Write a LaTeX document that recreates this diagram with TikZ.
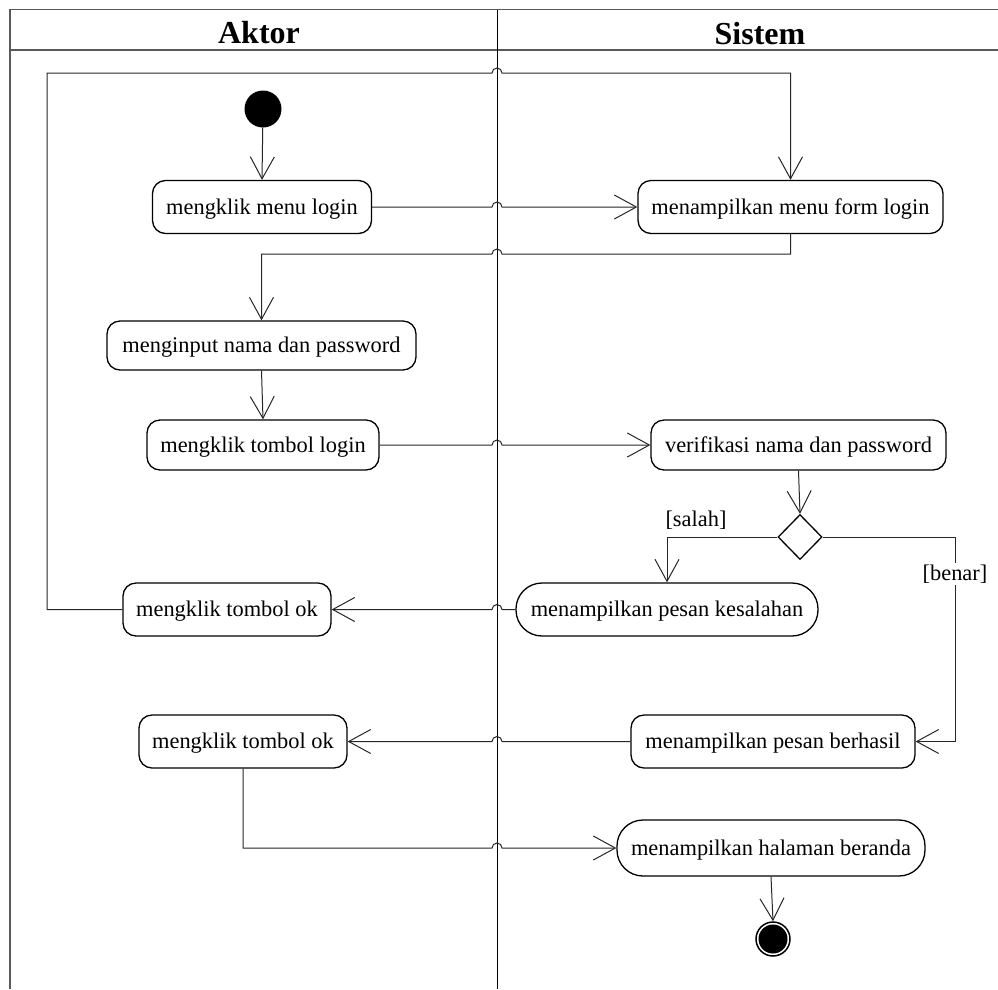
\documentclass[tikz,border=0pt]{standalone}
\usepackage{fontspec}
\setmainfont{Liberation Serif}
\usetikzlibrary{arrows.meta,shapes.geometric,calc}
\begin{document}
\begin{tikzpicture}[x=1pt,y=-1pt,
  txt/.style={font=\fontsize{22.4pt}{26pt}\selectfont},
  action/.style={txt,draw=black,line width=1.3pt,rounded corners=13pt,align=center,inner sep=0pt,text height=18pt,text depth=3.5pt},
  pill/.style={action,rounded corners=26pt},
  flow/.style={draw=black!85,line width=1pt,-{Straight Barb[length=22pt,width=24pt]}},
  guard/.style={txt,inner sep=2pt},
  lanehead/.style={font=\fontsize{32pt}{36pt}\selectfont\bfseries},
  lanerule/.style={draw=black!65,line width=1.4pt},
  startdot/.style={circle,fill=black,minimum size=37pt,inner sep=0pt},
  enddot/.style={circle,draw=black,line width=1.5pt,minimum size=34pt,inner sep=0pt,
    path picture={\fill[black] (path picture bounding box.center) circle (14.5pt);}},
  choice/.style={diamond,draw=black,line width=1.3pt,minimum width=44pt,minimum height=45pt,inner sep=0pt}
]
\useasboundingbox (0,0) rectangle (998,989);

% swimlane frame
\draw[lanerule] (10,989) -- (10,9.5) -- (998,9.5);
\draw[lanerule] (10,50) -- (998,50);
\draw[black,line width=1pt] (497,9.5) -- (497,989);
\coordinate (lane) at (497,0);
\node[lanehead] (hAktor) at (259,32.5) {Aktor};
\node[lanehead] (hSistem) at (760,33.5) {Sistem};

% activities
\node[startdot] (start) at (263,109) {};
\node[action,minimum width=219pt,minimum height=53pt] (login) at (262,207) {mengklik menu login};
\node[action,minimum width=305pt,minimum height=53pt] (form) at (790.5,207) {menampilkan menu form login};
\node[action,minimum width=309pt,minimum height=49pt] (input) at (261.5,345.5) {menginput nama dan password};
\node[action,minimum width=232pt,minimum height=50pt] (tombol) at (263,445) {mengklik tombol login};
\node[action,minimum width=295pt,minimum height=50pt] (verif) at (798.5,445) {verifikasi nama dan password};
\node[choice] (dec) at (800,537) {};
\node[pill,minimum width=302pt,minimum height=53pt] (kes) at (667,609.5) {menampilkan pesan kesalahan};
\node[action,minimum width=208pt,minimum height=53pt] (okA) at (227,609.5) {mengklik tombol ok};
\node[action,minimum width=284pt,minimum height=53pt] (berhasil) at (773,741.5) {menampilkan pesan berhasil};
\node[action,minimum width=208pt,minimum height=53pt] (okB) at (243,741.5) {mengklik tombol ok};
\node[pill,minimum width=308pt,minimum height=56pt] (beranda) at (771,848) {menampilkan halaman beranda};
\node[enddot] (end) at (773,939) {};

% flows
\draw[flow] (start) -- (login.north);
\draw[flow] (login.east) -- ($(login.east -| lane)+(-5pt,0)$) arc[start angle=180,end angle=0,radius=5pt] -- (form.west);
\coordinate (loopTop) at (47,73);
\draw[flow] (okA.west) -| (loopTop) -- ($(loopTop -| lane)+(-5pt,0)$) arc[start angle=180,end angle=0,radius=5pt] -- (loopTop -| form.north) -- (form.north);
\coordinate (back) at (0,254);
\draw[flow] (form.south) -- (back -| form.south) -- ($(back -| lane)+(5pt,0)$) arc[start angle=0,end angle=180,radius=5pt] -- (back -| input.north) -- (input.north);
\draw[flow] (input.south) -- (tombol.north);
\draw[flow] (tombol.east) -- ($(tombol.east -| lane)+(-5pt,0)$) arc[start angle=180,end angle=0,radius=5pt] -- (verif.west);
\draw[flow] (verif.south) -- (dec.north);
\draw[flow] (dec.west) -| (kes.north);
\node[guard] (salah) at (696,520) {[salah]};
\coordinate (benarX) at (955,0);
\draw[flow] (dec.east) -- (dec.east -| benarX) -- node[guard,fill=white,pos=0.18] (benar) {[benar]} (berhasil.east -| benarX) -- (berhasil.east);
\draw[flow] (kes.west) -- ($(kes.west -| lane)+(5pt,0)$) arc[start angle=0,end angle=180,radius=5pt] -- (okA.east);
\draw[flow] (berhasil.west) -- ($(berhasil.west -| lane)+(5pt,0)$) arc[start angle=0,end angle=180,radius=5pt] -- (okB.east);
\draw[flow] (okB.south) -- (okB.south |- beranda.west) -- ($(beranda.west -| lane)+(-5pt,0)$) arc[start angle=180,end angle=0,radius=5pt] -- (beranda.west);
\draw[flow] (beranda.south) -- (end.north);
\end{tikzpicture}
\end{document}
